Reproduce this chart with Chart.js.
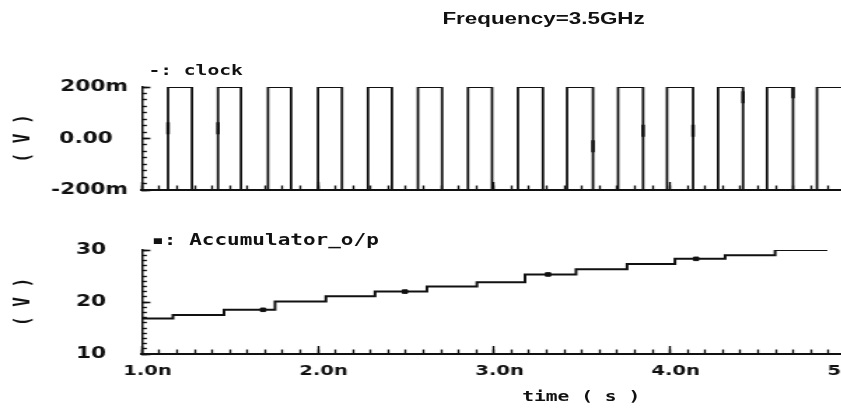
<!DOCTYPE html>
<html>
<head>
<meta charset="utf-8">
<title>Accumulator</title>
<script src="https://cdn.jsdelivr.net/npm/chart.js@4.4.0/dist/chart.umd.min.js"></script>
<style>
  html, body { margin: 0; padding: 0; background: #fff; width: 841px; height: 409px; overflow: hidden; }
  /* the whole sheet is drawn narrow and stretched sideways, like the simulator's plot window */
  #sheet { position: absolute; left: 0; top: 0; width: 641px; height: 409px; transform: scaleX(1.4); transform-origin: 0 0; }
  #sheet canvas { position: absolute; left: 0; }
  .txt { position: absolute; white-space: pre; color: #111; line-height: 1; }
  .mono { font-family: "DejaVu Sans Mono", monospace; font-weight: bold; font-size: 14px; }
  #freq { left: 316px; top: 11px; font-family: "Liberation Sans", Arial, sans-serif; font-weight: bold; font-size: 16px; }
  #clockKey { left: 106px; top: 63px; }
  #accKey { left: 108px; top: 233px; font-size: 15px; }
  #timeTitle { left: 373px; top: 389px; }
</style>
</head>
<body>
<div id="sheet">
  <canvas id="clockChart" width="640" height="216" style="top:0"></canvas>
  <canvas id="accChart" width="640" height="204" style="top:205px"></canvas>
  <div class="txt" id="freq">Frequency=3.5GHz</div>
  <div class="txt mono" id="clockKey">-: clock</div>
  <div class="txt mono" id="accKey">▪: Accumulator_o/p</div>
  <div class="txt mono" id="timeTitle">time ( s )</div>
</div>
<script>
// time axis, ns
const timeMin = 1.0;
const timeMax = 5.0;
const timeTicks = [1, 2, 3, 4, 5];
const timeTickLabels = ['1.0n', '2.0n', '3.0n', '4.0n', '5.0n'];

// clock edges (ns) and levels (V)
const clockRise = [1.148, 1.432, 1.716, 2.000, 2.284, 2.568, 2.852, 3.136, 3.415, 3.705, 3.983, 4.273, 4.551, 4.835];
const clockFall = [1.284, 1.5625, 1.847, 2.136, 2.420, 2.705, 2.989, 3.278, 3.5625, 3.847, 4.131, 4.415, 4.699];
const clockLow = -0.2;
const clockHigh = 0.2;
const clockMarkTime = [1.148, 1.432, 3.5625, 3.847, 4.131, 4.415, 4.699];
const clockMarkValue = [0.04, 0.04, -0.03, 0.03, 0.03, 0.16, 0.18];
const clockTicks = [-0.2, 0, 0.2];
const clockTickLabels = ['-200m', '0.00  ', '200m'];

// accumulator output: level after each step (V)
const accStepTime = [1.176, 1.466, 1.756, 2.045, 2.324, 2.619, 2.903, 3.176, 3.466, 3.756, 4.028, 4.313, 4.597];
const accLevel = [16.85, 17.5, 18.5, 20.1, 21.1, 22.0, 23.0, 23.8, 25.3, 26.3, 27.3, 28.3, 29.0, 30.0];
const accEndTime = 4.886;
const accEndLevel = 30.6;
const accMarkTime = [1.688, 2.494, 3.307, 4.148];
const accMarkValue = [18.5, 22.0, 25.3, 28.3];
const accTicks = [10, 20, 30];
const accTickLabels = ['10', '20', '30'];

const ink = '#111';
const tickFont = { family: 'DejaVu Sans', weight: 'bold', size: 15.5 };
const timeFont = { family: 'DejaVu Sans', weight: 'bold', size: 14 };
const vFont = { family: 'DejaVu Sans Mono', weight: 'bold', size: 16 };
const axisLeft = 101.4;

let clockPoints = [{ x: timeMin, y: clockLow }];
clockRise.forEach((t, i) => {
  clockPoints.push({ x: t, y: clockHigh });
  if (i < clockFall.length) {
    clockPoints.push({ x: clockFall[i], y: clockLow });
  }
});
clockPoints.push({ x: timeMax, y: clockHigh });

let accPoints = [{ x: timeMin, y: accLevel[0] }];
accStepTime.forEach((t, i) => {
  accPoints.push({ x: t, y: accLevel[i + 1] });
});
accPoints.push({ x: accEndTime, y: accLevel[accLevel.length - 1] });
accPoints.push({ x: accEndTime, y: accEndLevel });

function timeAxes(showLabels) {
  return {
    x: {
      type: 'linear',
      position: 'bottom',
      min: timeMin,
      max: timeMax,
      weight: 1,
      afterBuildTicks: (s) => {
        s.ticks = timeTicks.map((v) => ({ value: v }));
      },
      afterFit: (s) => {
        s.height = showLabels ? 55 : 26;
      },
      border: { color: ink, width: 2 },
      grid: { drawOnChartArea: false, tickLength: -8, tickColor: ink, tickWidth: 1.4 },
      ticks: {
        display: showLabels,
        autoSkip: false,
        maxRotation: 0,
        labelOffset: 4,
        padding: 16.6,
        color: ink,
        font: timeFont,
        callback: (v, i) => timeTickLabels[i],
      },
    },
    xMinor: {
      type: 'linear',
      position: 'bottom',
      min: timeMin,
      max: timeMax,
      weight: 0,
      afterFit: (s) => {
        s.height = 0;
      },
      border: { display: false },
      grid: { drawOnChartArea: false, tickLength: -4.5, tickColor: ink, tickWidth: 1.4 },
      ticks: { display: false, stepSize: 0.1 },
    },
  };
}

function levelAxes(min, max, minorStep, values, labels, labelGap) {
  return {
    y: {
      type: 'linear',
      position: 'left',
      min: min,
      max: max,
      weight: 1,
      afterBuildTicks: (s) => {
        s.ticks = values.map((v) => ({ value: v }));
      },
      afterFit: (s) => {
        s.width = axisLeft;
      },
      border: { color: ink, width: 1.5 },
      grid: { drawOnChartArea: false, tickLength: -6, tickColor: ink, tickWidth: 1.6 },
      ticks: { padding: labelGap, color: ink, font: tickFont, callback: (v, i) => labels[i] },
      title: { display: true, text: '( V )', color: ink, font: vFont, padding: { top: 7, bottom: 0 } },
    },
    yMinor: {
      type: 'linear',
      position: 'left',
      min: min,
      max: max,
      weight: 0,
      afterFit: (s) => {
        s.width = 0;
      },
      border: { display: false },
      grid: { drawOnChartArea: false, tickLength: -3.5, tickColor: ink, tickWidth: 1.4 },
      ticks: { display: false, stepSize: minorStep },
    },
  };
}

const baseOptions = {
  responsive: false,
  animation: false,
  devicePixelRatio: 1,
  plugins: {
    legend: { display: false },
    tooltip: { enabled: false },
  },
};

new Chart(document.getElementById('clockChart'), {
  type: 'line',
  data: {
    datasets: [
      {
        data: clockPoints,
        stepped: true,
        borderColor: ink,
        borderWidth: 1.8,
        pointRadius: 0,
      },
      {
        data: clockMarkTime.map((t, i) => ({ x: t, y: clockMarkValue[i] })),
        showLine: false,
        pointStyle: 'line',
        rotation: 90,
        pointRadius: 6,
        borderColor: ink,
        borderWidth: 2.5,
      },
    ],
  },
  options: {
    ...baseOptions,
    layout: { padding: { top: 87, right: 35.7, bottom: 0, left: 0 } },
    scales: {
      ...timeAxes(false),
      ...levelAxes(-0.2, 0.2, 0.025, clockTicks, clockTickLabels, 16),
    },
  },
});

// label gap also pads the scale vertically, so the top padding is kept above it
new Chart(document.getElementById('accChart'), {
  type: 'line',
  data: {
    datasets: [
      {
        data: accPoints,
        stepped: true,
        borderColor: ink,
        borderWidth: 2,
        pointRadius: 0,
      },
      {
        data: accMarkTime.map((t, i) => ({ x: t, y: accMarkValue[i] })),
        showLine: false,
        pointStyle: 'rect',
        pointRadius: 2.5,
        backgroundColor: ink,
        borderColor: ink,
        borderWidth: 1,
      },
    ],
  },
  options: {
    ...baseOptions,
    layout: { padding: { top: 45, right: 35.7, bottom: 0, left: 0 } },
    scales: {
      ...timeAxes(true),
      ...levelAxes(10, 30, 1, accTicks, accTickLabels, 31.7),
    },
  },
});
</script>
</body>
</html>
